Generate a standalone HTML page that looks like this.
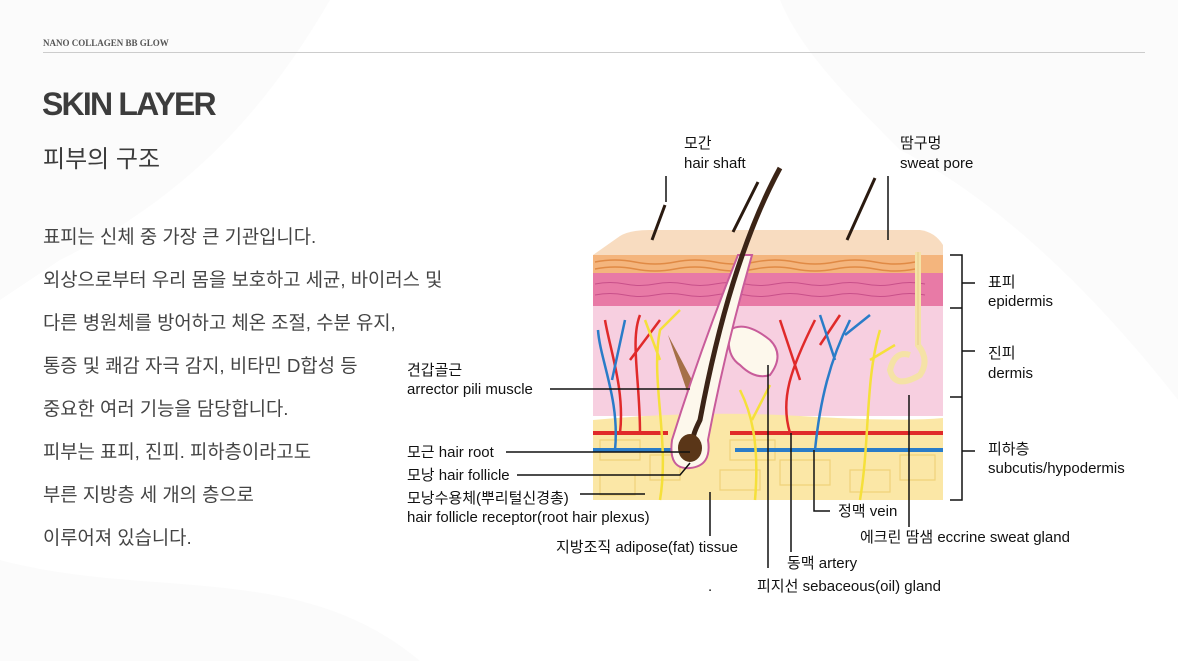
<!DOCTYPE html>
<html><head><meta charset="utf-8"><style>
html,body{margin:0;padding:0;width:1178px;height:661px;overflow:hidden;background:#fff}
body{position:relative;font-family:"Liberation Sans","Noto Sans CJK KR",sans-serif;color:#3a3a3a}
.t{position:absolute;white-space:nowrap}
.body p{position:absolute;left:43px;margin:0;font-size:18.8px;color:#444;white-space:nowrap;line-height:24px}
svg text{font-family:"Liberation Sans","Noto Sans CJK KR",sans-serif;font-size:15px;fill:#111}
</style></head><body>
<svg width="1178" height="661" style="position:absolute;left:0;top:0">
<path d="M0 0 L330 0 C260 120 180 200 60 260 L0 300Z" fill="#fbfbfb"/>
<path d="M780 0 L1178 0 L1178 400 C1100 300 1000 200 900 150 C850 100 800 50 780 0Z" fill="#fbfbfb"/>
<path d="M0 560 C150 600 300 560 420 661 L0 661Z" fill="#fbfbfb"/>
</svg>
<div class="t" style="left:43px;top:38px;font:bold 9px 'Liberation Serif',serif;color:#555">NANO COLLAGEN BB GLOW</div>
<div style="position:absolute;left:43px;top:52px;width:1102px;height:1px;background:#ccc"></div>
<div class="t" style="left:42px;top:86px;font-size:32px;font-weight:bold;color:#3c3c3c;letter-spacing:-1.8px">SKIN LAYER</div>
<div class="t" style="left:43px;top:139px;font-size:24px;color:#3c3c3c">피부의 구조</div>
<div class="body">
<p style="top:225px">표피는 신체 중 가장 큰 기관입니다.</p>
<p style="top:268px">외상으로부터 우리 몸을 보호하고 세균, 바이러스 및</p>
<p style="top:311px">다른 병원체를 방어하고 체온 조절, 수분 유지,</p>
<p style="top:354px">통증 및 쾌감 자극 감지, 비타민 D합성 등</p>
<p style="top:397px">중요한 여러 기능을 담당합니다.</p>
<p style="top:440px">피부는 표피, 진피. 피하층이라고도</p>
<p style="top:483px">부른 지방층 세 개의 층으로</p>
<p style="top:526px">이루어져 있습니다.</p>
</div>
<svg width="1178" height="661" style="position:absolute;left:0;top:0">
<path d="M593 255 L620 236 Q630 230 650 230 L920 230 Q935 232 943 245 L943 255Z" fill="#f8dcc0"/>
<rect x="593" y="255" width="350" height="20" fill="#f4b57d"/>
<path d="M595 262 q20 -4 40 0 t40 0 t40 0 t40 0 t40 0 t40 0 t40 0 t40 0 M595 269 q20 -4 40 0 t40 0 t40 0 t40 0 t40 0 t40 0 t40 0 t40 0" stroke="#e08a45" fill="none" stroke-width="1.5"/>
<rect x="593" y="273" width="350" height="33" fill="#e87aa6"/>
<path d="M595 284 q15 -3 30 0 t30 0 t30 0 t30 0 t30 0 t30 0 t30 0 t30 0 t30 0 t30 0 t30 0 M595 295 q15 -3 30 0 t30 0 t30 0 t30 0 t30 0 t30 0 t30 0 t30 0 t30 0 t30 0 t30 0" stroke="#c8508a" fill="none"/>
<rect x="593" y="306" width="350" height="110" fill="#f7cfe0"/>
<path d="M593 420 Q700 410 800 416 T943 418 L943 500 L593 500Z" fill="#fbe7a6"/>
<g stroke="#f0d27a" fill="none" stroke-width="1.2">
<path d="M600 440 h40 v20 h-40z M650 455 h30 v25 h-30z M720 470 h40 v20 h-40z M780 460 h50 v25 h-50z M850 470 h40 v22 h-40z M900 455 h35 v25 h-35z M600 475 h35 v20 h-35z M730 440 h45 v20 h-45z"/>
</g>
<path d="M593 433 H668 M730 433 H943" stroke="#e02a2a" stroke-width="4"/>
<path d="M593 450 H672 M735 450 H943" stroke="#2a7cc8" stroke-width="4"/>
<g fill="none" stroke-width="2.5">
<path d="M620 433 C625 390 610 350 605 320 M640 433 C640 380 630 340 640 315 M630 360 L660 320" stroke="#e02a2a"/>
<path d="M615 450 C620 400 600 360 598 330 M612 380 L625 320" stroke="#2a7cc8"/>
<path d="M660 500 C670 440 650 380 660 330 L680 310 M660 360 L645 320" stroke="#f5e03a"/>
<path d="M790 433 C780 400 790 370 815 320 M800 380 L780 320 M820 345 L840 315" stroke="#e02a2a"/>
<path d="M815 450 C820 400 830 360 850 320 M835 360 L820 315 M845 335 L870 315" stroke="#2a7cc8"/>
<path d="M755 500 C760 440 750 410 740 390 M752 420 L770 385 M860 500 C870 440 865 380 880 330 M870 360 L895 345" stroke="#f5e03a"/>
</g>
<path d="M668 335 L700 395 L690 400 Z" fill="#a57048"/>
<path d="M730 330 Q745 320 770 340 Q785 355 770 375 Q755 380 740 365 Q725 355 730 330Z" fill="#fdf8ec" stroke="#c85c9a" stroke-width="2"/>
<path d="M752 255 L738 255 Q700 350 672 440 Q668 470 690 468 Q712 466 708 440 Q725 350 752 255Z" fill="#fdf8ec" stroke="#c85c9a" stroke-width="2"/>
<path d="M780 168 Q730 260 700 420 Q690 440 695 440" stroke="#3b2416" stroke-width="5" fill="none"/>
<ellipse cx="690" cy="448" rx="12" ry="14" fill="#5a3618"/>
<path d="M665 205 L652 240 M758 182 L733 232 M875 178 L847 240" stroke="#2a1a10" stroke-width="3" fill="none"/>
<path d="M918 252 V345 Q930 360 920 375 Q895 390 890 370 Q895 350 910 355" stroke="#f5e2a6" stroke-width="6" fill="none"/>
<path d="M918 252 V345" stroke="#e8c98a" stroke-width="1" fill="none"/>
<g stroke="#111" stroke-width="1.5" fill="none">
<path d="M666 176 V202 M888 176 V240"/>
<path d="M550 389 H690"/>
<path d="M506 452 H690"/>
<path d="M517 475 H680 L690 463"/>
<path d="M580 494 H645"/>
<path d="M710 492 V536"/>
<path d="M768 365 V568"/>
<path d="M791 433 V552"/>
<path d="M814 450 V511 H830"/>
<path d="M909 395 V527"/>
<path d="M950 255 H962 V500 H950 M962 283 H975 M962 308 H950 M962 351 H975 M962 397 H950 M962 451 H975"/>
</g>
<text x="684" y="148">모간</text><text x="684" y="168">hair shaft</text>
<text x="900" y="148">땀구멍</text><text x="900" y="168">sweat pore</text>
<text x="988" y="287">표피</text><text x="988" y="306">epidermis</text>
<text x="988" y="358">진피</text><text x="988" y="378">dermis</text>
<text x="988" y="454">피하층</text><text x="988" y="473">subcutis/hypodermis</text>
<text x="407" y="375">견갑골근</text><text x="407" y="394">arrector pili muscle</text>
<text x="407" y="457">모근 hair root</text>
<text x="407" y="480">모낭 hair follicle</text>
<text x="407" y="503">모낭수용체(뿌리털신경총)</text>
<text x="407" y="522">hair follicle receptor(root hair plexus)</text>
<text x="556" y="552">지방조직 adipose(fat) tissue</text>
<text x="838" y="516">정맥 vein</text>
<text x="860" y="542">에크린 땀샘 eccrine sweat gland</text>
<text x="787" y="568">동맥 artery</text>
<text x="757" y="591">피지선 sebaceous(oil) gland</text>
<text x="708" y="591">.</text>
</svg>
</body></html>
